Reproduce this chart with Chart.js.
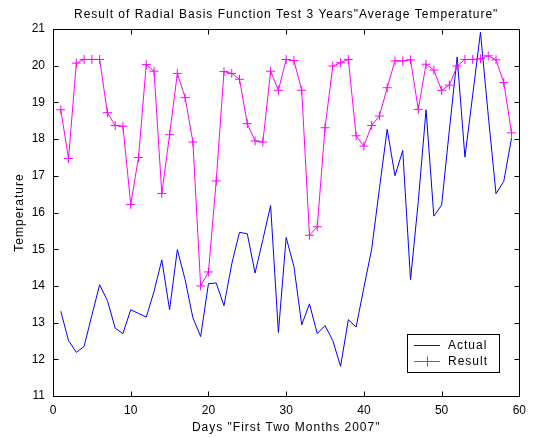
<!DOCTYPE html>
<html lang="en">
<head>
    <meta charset="UTF-8">
    <title>Radial Basis Function Test</title>
    <script src="https://cdn.jsdelivr.net/npm/chart.js@4.4.1/dist/chart.umd.min.js"></script>
    <style>
        body { margin: 0; background: #fff; }
        canvas { display: block; }
    </style>
</head>
<body>
    <canvas id="rbfChart" width="533" height="437"></canvas>
    <script>
        // days of Jan/Feb 2007
        const days = [1, 2, 3, 4, 5, 6, 7, 8, 9, 10, 11, 12, 13, 14, 15, 16, 17, 18, 19, 20,
                      21, 22, 23, 24, 25, 26, 27, 28, 29, 30, 31, 32, 33, 34, 35, 36, 37, 38, 39, 40,
                      41, 42, 43, 44, 45, 46, 47, 48, 49, 50, 51, 52, 53, 54, 55, 56, 57, 58, 59];

        const actual = [13.31, 12.51, 12.19, 12.35, 13.2, 14.03, 13.6, 12.85, 12.7, 13.35,
                        13.25, 13.15, 13.85, 14.71, 13.35, 14.99, 14.17, 13.13, 12.62, 14.06,
                        14.08, 13.46, 14.6, 15.46, 15.42, 14.35, 15.26, 16.19, 12.73, 15.32,
                        14.53, 12.94, 13.51, 12.7, 12.92, 12.51, 11.81, 13.08, 12.88, 13.95,
                        15.0, 16.65, 18.27, 17.0, 17.69, 14.17, 16.3, 18.8, 15.9, 16.2,
                        18.25, 20.24, 17.51, 19.2, 20.91, 18.65, 16.51, 16.85, 18.03];

        const result = [18.8, 17.47, 20.07, 20.17, 20.17, 20.17, 18.72, 18.37, 18.35, 16.22,
                        17.5, 20.03, 19.85, 16.52, 18.12, 19.79, 19.13, 17.92, 14.0, 14.38,
                        16.86, 19.84, 19.79, 19.63, 18.42, 17.95, 17.92, 19.85, 19.33, 20.17,
                        20.14, 19.33, 15.38, 15.61, 18.31, 19.99, 20.08, 20.17, 18.09, 17.81,
                        18.37, 18.63, 19.4, 20.13, 20.13, 20.16, 18.81, 20.04, 19.88, 19.33,
                        19.47, 19.99, 20.17, 20.17, 20.19, 20.27, 20.16, 19.54, 18.17];

        const xTicks = [0, 10, 20, 30, 40, 50, 60];
        const yTicks = [11, 12, 13, 14, 15, 16, 17, 18, 19, 20, 21];

        const titleText = 'Result of Radial Basis Function Test 3 Years"Average Temperature"';
        const xTitle = 'Days "First Two Months 2007"';
        const yTitle = 'Temperature';
        const FONT = '"Liberation Sans", Arial, Helvetica, sans-serif';

        const toPoints = vals => vals.map((v, i) => ({ x: days[i], y: v }));

        // box, inward ticks on all four sides, titles and legend
        const matlabFrame = {
            id: 'matlabFrame',
            afterDraw(chart) {
                const { ctx, chartArea: a, scales } = chart;
                const L = Math.round(a.left) + 0.5, R = Math.round(a.right) + 0.5;
                const T = Math.round(a.top) + 0.5, B = Math.round(a.bottom) + 0.5;
                ctx.save();
                ctx.strokeStyle = '#000';
                ctx.lineWidth = 1;
                ctx.strokeRect(L, T, R - L, B - T);

                const len = 5;
                ctx.beginPath();
                xTicks.forEach(t => {
                    const px = Math.round(scales.x.getPixelForValue(t)) + 0.5;
                    ctx.moveTo(px, B); ctx.lineTo(px, B - len);
                    ctx.moveTo(px, T); ctx.lineTo(px, T + len);
                });
                yTicks.forEach(t => {
                    const py = Math.round(scales.y.getPixelForValue(t)) + 0.5;
                    ctx.moveTo(L, py); ctx.lineTo(L + len, py);
                    ctx.moveTo(R, py); ctx.lineTo(R - len, py);
                });
                ctx.stroke();

                // titles, slightly spaced like the old Helvetica output
                ctx.fillStyle = '#000';
                ctx.font = '12px ' + FONT;
                ctx.letterSpacing = '1px';
                ctx.textAlign = 'center';
                ctx.textBaseline = 'middle';
                const cx = (a.left + a.right) / 2;
                ctx.fillText(titleText, cx, 15);
                ctx.fillText(xTitle, cx, 428);
                ctx.save();
                ctx.translate(20, (a.top + a.bottom) / 2);
                ctx.rotate(-Math.PI / 2);
                ctx.fillText(yTitle, 0, 0);
                ctx.restore();

                // legend
                const bx = 407.5, by = 334.5, bw = 92, bh = 38;
                ctx.fillStyle = '#fff';
                ctx.fillRect(bx, by, bw, bh);
                ctx.strokeStyle = '#000';
                ctx.strokeRect(bx, by, bw, bh);
                const rows = [
                    { label: 'Actual', color: '#0000ff', y: 345.5, mark: false },
                    { label: 'Result', color: '#ff00ff', y: 361.5, mark: true }
                ];
                rows.forEach(r => {
                    ctx.strokeStyle = r.color;
                    ctx.beginPath();
                    ctx.moveTo(414, r.y); ctx.lineTo(440, r.y);
                    if (r.mark) {
                        ctx.moveTo(427.5, r.y - 5); ctx.lineTo(427.5, r.y + 5);
                        ctx.moveTo(422.5, r.y); ctx.lineTo(432.5, r.y);
                    }
                    ctx.stroke();
                    ctx.fillStyle = '#000';
                    ctx.textAlign = 'left';
                    ctx.fillText(r.label, 448, r.y);
                });
                ctx.restore();
            }
        };

        new Chart(document.getElementById('rbfChart'), {
            type: 'line',
            data: {
                datasets: [{
                    label: 'Actual',
                    data: toPoints(actual),
                    borderColor: '#0000ff',
                    borderWidth: 1,
                    pointRadius: 0,
                    tension: 0,
                    order: 2
                }, {
                    label: 'Result',
                    data: toPoints(result),
                    borderColor: '#ff00ff',
                    borderWidth: 1,
                    pointStyle: 'cross',
                    pointRadius: 4.5,
                    pointBorderColor: '#ff00ff',
                    pointBorderWidth: 1,
                    tension: 0,
                    order: 1
                }]
            },
            options: {
                responsive: false,
                animation: false,
                devicePixelRatio: 1,
                layout: { padding: { top: 29, right: 12, left: 0, bottom: 0 } },
                plugins: {
                    legend: { display: false },
                    title: { display: false },
                    tooltip: { enabled: false }
                },
                scales: {
                    x: {
                        type: 'linear',
                        min: 0,
                        max: 60,
                        afterBuildTicks: s => { s.ticks = xTicks.map(v => ({ value: v })); },
                        afterFit: s => { s.height = 41; },
                        grid: { display: false, drawTicks: false },
                        border: { display: false },
                        ticks: { color: '#000', padding: 7, maxRotation: 0, font: { family: FONT, size: 12 } }
                    },
                    y: {
                        min: 11,
                        max: 21,
                        afterBuildTicks: s => { s.ticks = yTicks.map(v => ({ value: v })); },
                        afterFit: s => { s.width = 53; },
                        grid: { display: false, drawTicks: false },
                        border: { display: false },
                        ticks: { color: '#000', padding: 8, font: { family: FONT, size: 12 } }
                    }
                }
            },
            plugins: [matlabFrame]
        });
    </script>
</body>
</html>
